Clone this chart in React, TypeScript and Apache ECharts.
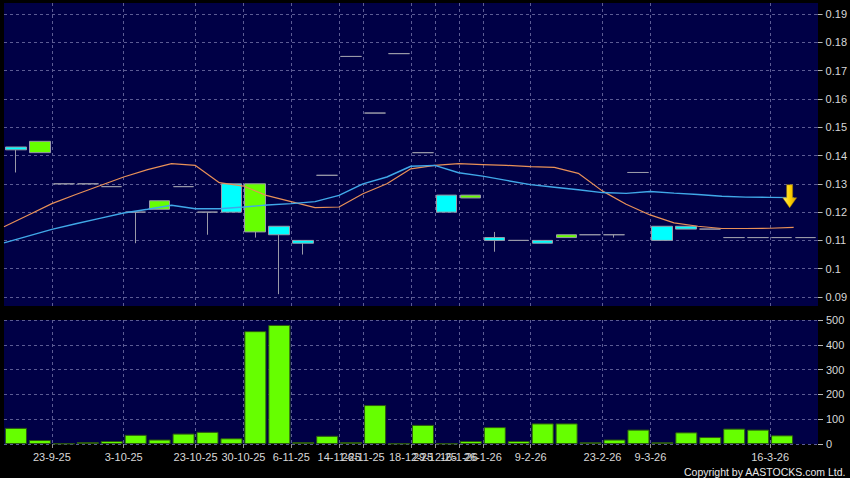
import React, { useEffect, useRef } from "react";
import * as echarts from "echarts";

// ---- data ----
const slotCount = 34;
const candleOpen = [0.143, 0.141, 0.13, 0.13, 0.129, 0.12, 0.121, 0.129, 0.12, 0.13, 0.113, 0.115, 0.11, 0.133, 0.175, 0.155, 0.176, 0.141, 0.126, 0.125, 0.111, 0.11, 0.11, 0.111, 0.112, 0.112, 0.134, 0.115, 0.115, 0.114, 0.111, 0.111, 0.111, 0.111];
const candleClose = [0.142, 0.145, 0.13, 0.13, 0.129, 0.12, 0.124, 0.129, 0.12, 0.12, 0.13, 0.112, 0.109, 0.133, 0.175, 0.155, 0.176, 0.141, 0.12, 0.126, 0.11, 0.11, 0.109, 0.112, 0.112, 0.112, 0.134, 0.11, 0.114, 0.114, 0.111, 0.111, 0.111, 0.111];
const candleLow = [0.134, 0.141, 0.13, 0.13, 0.129, 0.109, 0.121, 0.129, 0.112, 0.12, 0.111, 0.091, 0.105, 0.133, 0.175, 0.155, 0.176, 0.141, 0.12, 0.125, 0.106, 0.11, 0.109, 0.111, 0.112, 0.111, 0.134, 0.11, 0.114, 0.114, 0.111, 0.111, 0.111, 0.111];
const candleHigh = [0.143, 0.145, 0.13, 0.13, 0.129, 0.12, 0.124, 0.129, 0.12, 0.13, 0.13, 0.115, 0.11, 0.133, 0.175, 0.155, 0.176, 0.141, 0.126, 0.126, 0.113, 0.11, 0.11, 0.112, 0.112, 0.112, 0.134, 0.115, 0.115, 0.114, 0.111, 0.111, 0.111, 0.111];
const volumes: (number | null)[] = [65, 16, 2, 8, 12, 37, 18, 42, 49, 23, 455, 480, 8, 33, 8, 157, 2, 77, 2, 12, 68, 12, 83, 83, 7, 18, 58, 7, 47, 28, 62, 58, 35, null];
// moving averages, one point per slot boundary
const maOrange = [0.1148, 0.1189, 0.123, 0.1262, 0.1293, 0.1324, 0.135, 0.1371, 0.1365, 0.1304, 0.1292, 0.1258, 0.1237, 0.1216, 0.1218, 0.1265, 0.13, 0.1353, 0.1365, 0.1371, 0.1368, 0.1365, 0.1361, 0.1358, 0.1337, 0.1275, 0.1228, 0.119, 0.1162, 0.115, 0.1142, 0.1142, 0.1143, 0.1146];
const maBlue = [0.1091, 0.1115, 0.1139, 0.1159, 0.1178, 0.1197, 0.121, 0.1224, 0.1212, 0.1212, 0.1218, 0.1225, 0.123, 0.1237, 0.1259, 0.13, 0.1324, 0.1362, 0.1365, 0.1339, 0.1327, 0.1312, 0.1297, 0.1288, 0.1279, 0.1269, 0.1266, 0.1273, 0.1267, 0.1262, 0.1256, 0.1253, 0.1252, 0.1251];
// date labels at slot boundaries
const dateLabelIndex = [2, 5, 8, 10, 12, 14, 15, 17, 18, 19, 20, 22, 25, 27, 32];
const dateLabelText = ["23-9-25", "3-10-25", "23-10-25", "30-10-25", "6-11-25", "14-11-25", "26-11-25", "18-12-25", "29-12-25", "16-1-26", "26-1-26", "9-2-26", "23-2-26", "9-3-26", "16-3-26"];
const priceMin = 0.09;
const priceMax = 0.19;
const priceStep = 0.01;
const volumeMax = 500;
const volumeStep = 100;
const arrowValue = 0.1256;

const FONT = "'Liberation Sans', Arial, sans-serif";
const GRID_COLOR = "#5c5c94";
const PANEL = "#000046";
const CANDLE_EDGE = "#9a9aa8";
const TICK = "#b8b8b8";

export default function App() {
  const ref = useRef<HTMLDivElement>(null);
  useEffect(() => {
    if (!ref.current) return;
    const chart = echarts.init(ref.current, undefined, { renderer: "svg" });
    const slots = Array.from({ length: slotCount }, (_, i) => "s" + i);
    const bounds = Array.from({ length: slotCount + 1 }, (_, i) => "b" + i);
    const labelMap: Record<number, string> = {};
    dateLabelIndex.forEach((b, i) => (labelMap[b] = dateLabelText[i]));
    const isLabeled = (i: number) => labelMap[i] !== undefined;
    const candles = candleOpen.map((o, i) => [o, candleClose[i], candleLow[i], candleHigh[i]]);
    const dash = { color: GRID_COLOR, type: [3, 3], width: 1 };

    const boundaryAxis = (gridIndex: number, showLabels: boolean, showSplit: boolean) => ({
      type: "category", gridIndex, data: bounds, boundaryGap: false, position: "bottom",
      axisLine: { show: false },
      axisTick: {
        show: showLabels, interval: (i: number) => isLabeled(i), length: 4,
        lineStyle: { color: "#909090" },
      },
      axisLabel: {
        show: showLabels, interval: 0, margin: 7, color: "#d8d8d8", fontSize: 11, fontFamily: FONT,
        formatter: (_v: string, i: number) => labelMap[i] ?? "",
      },
      splitLine: { show: showSplit, interval: (i: number) => isLabeled(i), lineStyle: dash },
    });

    chart.setOption({
      animation: false,
      backgroundColor: "#000000",
      grid: [
        { left: 4, right: 32, top: 14, height: 283 },
        { left: 4, right: 32, top: 320, height: 124, show: true, backgroundColor: PANEL, borderWidth: 0 },
        { left: 4, right: 32, top: 3, height: 303, show: true, backgroundColor: PANEL, borderWidth: 0, z: -1 },
      ],
      xAxis: [
        { type: "category", gridIndex: 0, data: slots, boundaryGap: true, show: false },
        boundaryAxis(0, false, false),
        { type: "category", gridIndex: 1, data: slots, boundaryGap: true, show: false },
        boundaryAxis(1, true, true),
        boundaryAxis(2, false, true),
      ],
      yAxis: [
        {
          type: "value", gridIndex: 0, position: "right",
          min: priceMin, max: priceMax, interval: priceStep,
          axisLine: { show: false },
          axisTick: { show: true, length: 5, lineStyle: { color: TICK } },
          axisLabel: {
            show: true, margin: 8, color: "#d8d8d8", fontSize: 11, fontFamily: FONT,
            formatter: (v: number) => String(Number(v.toFixed(2))),
          },
          splitLine: { show: true, lineStyle: dash },
        },
        {
          type: "value", gridIndex: 1, position: "right", min: 0, max: volumeMax, interval: volumeStep,
          axisLine: { show: false },
          axisTick: { show: true, length: 5, lineStyle: { color: TICK } },
          axisLabel: { show: true, margin: 8, color: "#d8d8d8", fontSize: 11, fontFamily: FONT },
          splitLine: { show: true, lineStyle: dash },
        },
        {
          type: "value", gridIndex: 2, show: false, min: 0, max: 1,
          splitLine: { show: false },
        },
      ],
      series: [
        {
          type: "candlestick", xAxisIndex: 0, yAxisIndex: 0, data: candles, barWidth: "88%",
          itemStyle: {
            color: "#66ff00", color0: "#00ffff",
            borderColor: CANDLE_EDGE, borderColor0: CANDLE_EDGE, borderColorDoji: CANDLE_EDGE, borderWidth: 1,
          },
        },
        {
          type: "line", xAxisIndex: 1, yAxisIndex: 0, data: maOrange, symbol: "none",
          lineStyle: { color: "#e89058", width: 1.2 },
        },
        {
          type: "line", xAxisIndex: 1, yAxisIndex: 0, data: maBlue, symbol: "none",
          lineStyle: { color: "#40a8e8", width: 1.4 },
          markPoint: {
            symbol: "path://M4,0 L10,0 L10,13 L14,13 L7,23 L0,13 L4,13 Z",
            symbolSize: [14, 23],
            symbolOffset: [-4, 0],
            label: { show: false },
            itemStyle: {
              color: new echarts.graphic.LinearGradient(0, 0, 1, 0, [
                { offset: 0, color: "#fff27a" },
                { offset: 0.5, color: "#ffd400" },
                { offset: 1, color: "#d8a000" },
              ]),
              borderColor: "#a07800", borderWidth: 0.5,
            },
            data: [{ coord: [slotCount - 1, arrowValue] }],
          },
        },
        {
          type: "bar", xAxisIndex: 2, yAxisIndex: 1, data: volumes, barWidth: "92%",
          itemStyle: { color: "#66ff00", borderColor: "#2c5a10", borderWidth: 1 },
        },
      ],
      graphic: [
        {
          type: "text", right: 4, bottom: 1,
          style: { text: "Copyright by AASTOCKS.com Ltd.", fill: "#e8e8e8", font: `10.5px ${FONT}` },
        },
      ],
    });
    return () => chart.dispose();
  }, []);
  return (
    <div style={{ position: "fixed", left: 0, top: 0, width: 850, height: 478, background: "#000" }}>
      <div ref={ref} style={{ width: 850, height: 478 }} />
    </div>
  );
}
